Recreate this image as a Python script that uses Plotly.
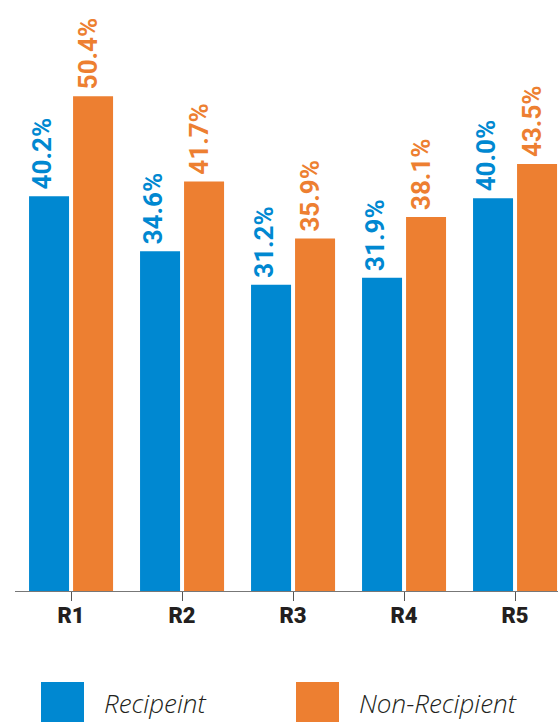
import plotly.graph_objects as go

categories = ["R1", "R2", "R3", "R4", "R5"]
recipient = [40.2, 34.6, 31.2, 31.9, 40.0]
non_recipient = [50.4, 41.7, 35.9, 38.1, 43.5]
series_names = ["Recipeint", "Non-Recipient"]

BLUE = "#0088D1"
ORANGE = "#ED7F31"
W, H = 558, 722
L, B = 15, 131
PW, PH = W - L, H - B

def px_x(px):
    return (px - L) / PW

def px_y(py):
    return (PH - py) / PH

fig = go.Figure()
series = [(series_names[0], recipient, BLUE, -29), (series_names[1], non_recipient, ORANGE, 17)]
for name, vals, col, xs in series:
    fig.add_trace(go.Bar(
        x=categories, y=vals, name=name, marker=dict(color=col, line=dict(width=0)),
        cliponaxis=False, showlegend=False,
    ))
    for c, v in zip(categories, vals):
        fig.add_annotation(x=c, y=v, xref="x", yref="y", text=f"{v:.1f}%",
                           textangle=-90, showarrow=False,
                           xanchor="center", yanchor="bottom", xshift=xs, yshift=5,
                           font=dict(family="Roboto", size=26, color=col, weight="bold"))

fig.update_layout(
    width=W, height=H, margin=dict(l=L, r=0, t=0, b=B),
    paper_bgcolor="white", plot_bgcolor="white",
    barmode="group", bargap=0.207, bargroupgap=0.091,
    xaxis=dict(range=[-0.505, 4.387], showgrid=False, zeroline=False,
               showline=True, linecolor="#777777", linewidth=1,
               ticks="outside", ticklen=9, tickcolor="#555555", tickwidth=1,
               ticklabelstandoff=-4,
               tickfont=dict(family="Roboto", size=22, color="#231F20", weight=900)),
    yaxis=dict(range=[0, 60.2], visible=False, showgrid=False, zeroline=False),
    font=dict(family="Roboto"),
)

legend_items = [(series_names[0], BLUE, 41, 102), (series_names[1], ORANGE, 296, 357)]
for name, col, sx, tx in legend_items:
    fig.add_shape(type="rect", xref="paper", yref="paper",
                  x0=px_x(sx), x1=px_x(sx + 43), y0=px_y(722), y1=px_y(682),
                  fillcolor=col, line=dict(width=0), layer="above")
    fig.add_annotation(xref="paper", yref="paper", x=px_x(tx), y=px_y(703),
                       xanchor="left", yanchor="middle", showarrow=False,
                       text="<i>" + name + "</i>",
                       font=dict(family="Open Sans", size=26, color="#231F20", weight=300))

fig.write_html("out.html")
